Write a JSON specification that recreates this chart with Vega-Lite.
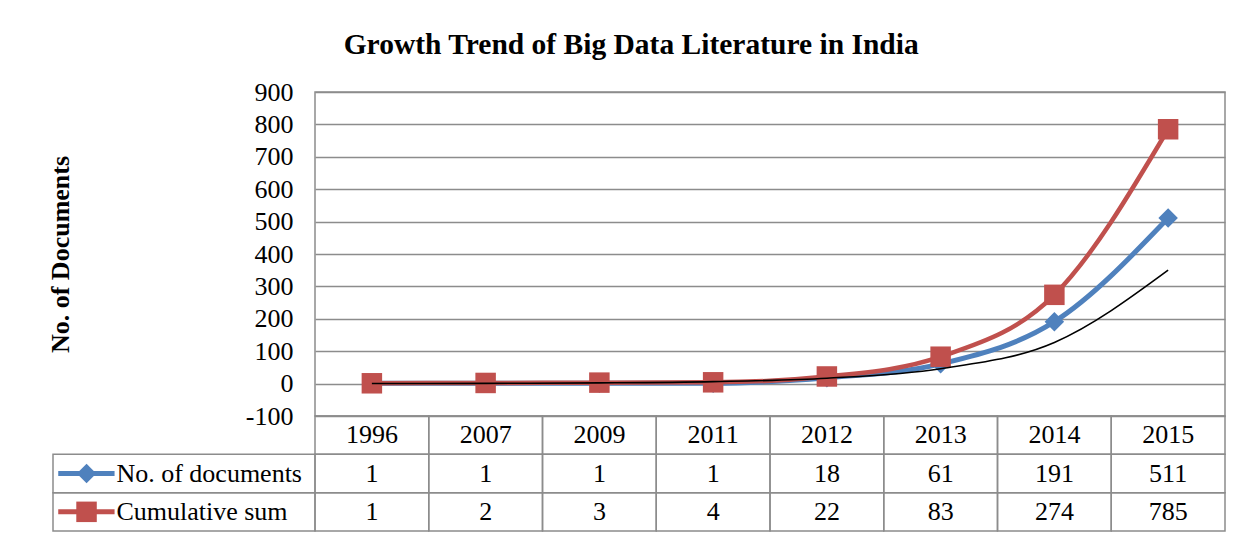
{
  "$schema": "https://vega.github.io/schema/vega-lite/v6.json",
  "padding": {"left": 46, "top": 29, "right": 10, "bottom": 5},
  "background": "white",
  "title": {"text": "Growth Trend of Big Data Literature in India", "font": "Liberation Serif", "fontSize": 29.5, "fontWeight": "bold", "color": "black", "offset": 18, "anchor": "middle", "dx": -5},
  "config": {"view": {"stroke": null}, "font": "Liberation Serif"},
  "datasets": {
    "series": [
      {"year": "1996", "series": "No. of documents", "value": 1},
      {"year": "2007", "series": "No. of documents", "value": 1},
      {"year": "2009", "series": "No. of documents", "value": 1},
      {"year": "2011", "series": "No. of documents", "value": 1},
      {"year": "2012", "series": "No. of documents", "value": 18},
      {"year": "2013", "series": "No. of documents", "value": 61},
      {"year": "2014", "series": "No. of documents", "value": 191},
      {"year": "2015", "series": "No. of documents", "value": 511},
      {"year": "1996", "series": "Cumulative sum", "value": 1},
      {"year": "2007", "series": "Cumulative sum", "value": 2},
      {"year": "2009", "series": "Cumulative sum", "value": 3},
      {"year": "2011", "series": "Cumulative sum", "value": 4},
      {"year": "2012", "series": "Cumulative sum", "value": 22},
      {"year": "2013", "series": "Cumulative sum", "value": 83},
      {"year": "2014", "series": "Cumulative sum", "value": 274},
      {"year": "2015", "series": "Cumulative sum", "value": 785},
      {"year": "1996", "series": "Trend", "value": 0.29},
      {"year": "2007", "series": "Trend", "value": 0.8},
      {"year": "2009", "series": "Trend", "value": 2.2},
      {"year": "2011", "series": "Trend", "value": 6.1},
      {"year": "2012", "series": "Trend", "value": 16.7},
      {"year": "2013", "series": "Trend", "value": 46},
      {"year": "2014", "series": "Trend", "value": 127},
      {"year": "2015", "series": "Trend", "value": 350}
    ],
    "table": [
      {"year": "1996", "row": "Year", "label": "1996"},
      {"year": "2007", "row": "Year", "label": "2007"},
      {"year": "2009", "row": "Year", "label": "2009"},
      {"year": "2011", "row": "Year", "label": "2011"},
      {"year": "2012", "row": "Year", "label": "2012"},
      {"year": "2013", "row": "Year", "label": "2013"},
      {"year": "2014", "row": "Year", "label": "2014"},
      {"year": "2015", "row": "Year", "label": "2015"},
      {"year": "1996", "row": "No. of documents", "label": "1"},
      {"year": "2007", "row": "No. of documents", "label": "1"},
      {"year": "2009", "row": "No. of documents", "label": "1"},
      {"year": "2011", "row": "No. of documents", "label": "1"},
      {"year": "2012", "row": "No. of documents", "label": "18"},
      {"year": "2013", "row": "No. of documents", "label": "61"},
      {"year": "2014", "row": "No. of documents", "label": "191"},
      {"year": "2015", "row": "No. of documents", "label": "511"},
      {"year": "1996", "row": "Cumulative sum", "label": "1"},
      {"year": "2007", "row": "Cumulative sum", "label": "2"},
      {"year": "2009", "row": "Cumulative sum", "label": "3"},
      {"year": "2011", "row": "Cumulative sum", "label": "4"},
      {"year": "2012", "row": "Cumulative sum", "label": "22"},
      {"year": "2013", "row": "Cumulative sum", "label": "83"},
      {"year": "2014", "row": "Cumulative sum", "label": "274"},
      {"year": "2015", "row": "Cumulative sum", "label": "785"}
    ],
    "rows": [
      {"row": "No. of documents"},
      {"row": "Cumulative sum"}
    ]
  },
  "columns": 2,
  "spacing": 0,
  "bounds": "flush",
  "concat": [
    {
      "width": 262,
      "height": 324,
      "data": {"values": []},
      "mark": "point"
    },
    {
      "width": 910,
      "height": 324,
      "view": {"stroke": "#8c8c8c", "strokeWidth": 1.5},
      "data": {"name": "series"},
      "encoding": {
        "x": {"field": "year", "type": "ordinal", "scale": {"type": "point", "padding": 0.5, "domain": ["1996", "2007", "2009", "2011", "2012", "2013", "2014", "2015"]}, "axis": null},
        "y": {"field": "value", "type": "quantitative", "scale": {"domain": [-100, 900], "nice": false, "zero": false},
          "axis": {"values": [-100, 0, 100, 200, 300, 400, 500, 600, 700, 800, 900], "labelExpr": "toString(datum.value)", "title": "No. of Documents", "titleFont": "Liberation Serif", "titleFontSize": 26, "titleFontWeight": "bold", "titleColor": "black", "titlePadding": 172, "labelFont": "Liberation Serif", "labelFontSize": 26, "labelColor": "black", "labelPadding": 22, "ticks": false, "domain": false, "grid": true, "gridColor": "#8c8c8c", "gridWidth": 1.5}}
      },
      "layer": [
        {
          "transform": [{"filter": "datum.series === 'No. of documents'"}],
          "mark": {"type": "line", "color": "#4F81BD", "strokeWidth": 5, "interpolate": "monotone",
            "point": {"shape": "diamond", "size": 380, "filled": true, "color": "#4F81BD", "opacity": 1}}
        },
        {
          "transform": [{"filter": "datum.series === 'Cumulative sum'"}],
          "mark": {"type": "line", "color": "#C0504D", "strokeWidth": 4.5, "interpolate": "monotone",
            "point": {"shape": "square", "size": 420, "filled": true, "color": "#C0504D", "opacity": 1}}
        },
        {
          "transform": [{"filter": "datum.series === 'Trend'"}],
          "mark": {"type": "line", "color": "black", "strokeWidth": 1.6, "interpolate": "monotone"}
        }
      ]
    },
    {
      "width": 262,
      "height": 115,
      "data": {"name": "rows"},
      "encoding": {
        "y": {"field": "row", "type": "nominal", "scale": {"domain": ["Year", "No. of documents", "Cumulative sum"], "paddingInner": 0, "paddingOuter": 0}, "axis": null}
      },
      "layer": [
        {
          "mark": {"type": "rect", "fill": null, "stroke": "#8c8c8c", "strokeWidth": 1.5}
        },
        {
          "mark": {"type": "rule", "strokeWidth": 5},
          "encoding": {
            "x": {"datum": 2, "type": "quantitative", "scale": {"domain": [0, 100], "nice": false, "zero": false}, "axis": null},
            "x2": {"datum": 23.5},
            "color": {"field": "row", "type": "nominal", "scale": {"domain": ["No. of documents", "Cumulative sum"], "range": ["#4F81BD", "#C0504D"]}, "legend": null}
          }
        },
        {
          "mark": {"type": "point", "filled": true, "opacity": 1},
          "encoding": {
            "x": {"datum": 12.8, "type": "quantitative"},
            "color": {"field": "row", "type": "nominal", "legend": null},
            "shape": {"field": "row", "type": "nominal", "scale": {"domain": ["No. of documents", "Cumulative sum"], "range": ["diamond", "square"]}, "legend": null},
            "size": {"field": "row", "type": "nominal", "scale": {"domain": ["No. of documents", "Cumulative sum"], "range": [380, 420]}, "legend": null}
          }
        },
        {
          "mark": {"type": "text", "align": "left", "baseline": "middle", "font": "Liberation Serif", "fontSize": 26, "color": "black"},
          "encoding": {
            "x": {"datum": 24.2, "type": "quantitative"},
            "text": {"field": "row"}
          }
        }
      ]
    },
    {
      "width": 910,
      "height": 115,
      "data": {"name": "table"},
      "encoding": {
        "x": {"field": "year", "type": "nominal", "scale": {"domain": ["1996", "2007", "2009", "2011", "2012", "2013", "2014", "2015"], "paddingInner": 0, "paddingOuter": 0}, "axis": null},
        "y": {"field": "row", "type": "nominal", "scale": {"domain": ["Year", "No. of documents", "Cumulative sum"], "paddingInner": 0, "paddingOuter": 0}, "axis": null}
      },
      "layer": [
        {"mark": {"type": "rect", "fill": null, "stroke": "#8c8c8c", "strokeWidth": 1.5}},
        {"mark": {"type": "text", "align": "center", "baseline": "middle", "font": "Liberation Serif", "fontSize": 26, "color": "black"}, "encoding": {"text": {"field": "label"}}}
      ]
    }
  ]
}
